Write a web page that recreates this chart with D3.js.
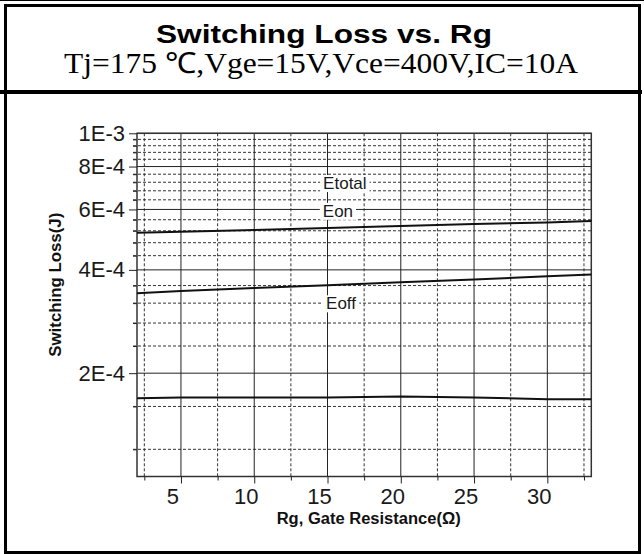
<!DOCTYPE html>
<html>
<head>
<meta charset="utf-8">
<script src="https://cdn.jsdelivr.net/npm/d3@7"></script>
<style>
  html, body { margin: 0; padding: 0; background: #fff; }
  svg { display: block; }
</style>
</head>
<body>
<svg id="chart" width="644" height="554"></svg>
<script>
// ---- data ----
const titleText = "Switching Loss vs. Rg";
const subtitleText = "Tj=175 \u2103,Vge=15V,Vce=400V,IC=10A";
const xTitle = "Rg, Gate Resistance(\u03A9)";
const yTitle = "Switching Loss(J)";

const rg = [2, 5, 10, 15, 20, 25, 30, 33];
const etotal = [5.13e-4, 5.17e-4, 5.23e-4, 5.30e-4, 5.37e-4, 5.44e-4, 5.50e-4, 5.55e-4];
const eon    = [3.42e-4, 3.47e-4, 3.54e-4, 3.61e-4, 3.68e-4, 3.75e-4, 3.83e-4, 3.88e-4];
const eoff   = [1.69e-4, 1.70e-4, 1.70e-4, 1.70e-4, 1.71e-4, 1.70e-4, 1.68e-4, 1.68e-4];

const seriesNames = ["Etotal", "Eon", "Eoff"];
const labelRg = [14.7, 14.68, 14.9];
const labelVal = [6.88e-4, 5.71e-4, 3.07e-4];

const xDomain = [2, 33];
const yDomain = [1e-4, 1e-3];
const xMajor = [5, 10, 15, 20, 25, 30];
const xMinor = [2.5, 7.5, 12.5, 17.5, 22.5, 27.5, 32.5];
const yMajor = [1e-3, 8e-4, 6e-4, 4e-4, 2e-4];
const yMajorLabels = ["1E-3", "8E-4", "6E-4", "4E-4", "2E-4"];
const yMinor = [1.2e-4, 1.6e-4, 2.4e-4, 2.8e-4, 3.2e-4, 3.6e-4, 4.4e-4, 4.8e-4,
                5.2e-4, 5.6e-4, 6.4e-4, 6.8e-4, 7.2e-4, 7.6e-4, 8.4e-4, 8.8e-4, 9.2e-4, 9.6e-4];

// ---- layout ----
const svg = d3.select("#chart");
const sans = "Arial, 'Liberation Sans', Helvetica, sans-serif";
const serif = "'Times New Roman', 'Liberation Serif', serif";
const L = 137, R = 591.3, T = 133.3, B = 476.5;

const x = d3.scaleLinear().domain(xDomain).range([L, R]);
const y = d3.scaleLog().domain(yDomain).range([B, T]);

// ---- frame ----
svg.append("line").attr("x1", 0).attr("x2", 644).attr("y1", 0.5).attr("y2", 0.5)
  .attr("stroke", "#000").attr("stroke-width", 1);
svg.append("rect").attr("x", 5.5).attr("y", 5.5).attr("width", 634).attr("height", 86.5)
  .attr("fill", "none").attr("stroke", "#000").attr("stroke-width", 3);
svg.append("rect").attr("x", 5.5).attr("y", 92).attr("width", 634).attr("height", 460.5)
  .attr("fill", "none").attr("stroke", "#000").attr("stroke-width", 3);
svg.append("line").attr("x1", 0).attr("x2", 642).attr("y1", 92).attr("y2", 92)
  .attr("stroke", "#000").attr("stroke-width", 4);

// ---- titles ----
svg.append("text").attr("x", 156).attr("y", 43)
  .attr("font-family", sans).attr("font-weight", "bold").attr("font-size", 26)
  .attr("textLength", 336).attr("lengthAdjust", "spacingAndGlyphs")
  .attr("fill", "#000").text(titleText);
svg.append("text").attr("x", 64).attr("y", 73)
  .attr("font-family", serif).attr("font-size", 29)
  .attr("textLength", 514).attr("lengthAdjust", "spacingAndGlyphs")
  .attr("fill", "#000").text(subtitleText);

// ---- grid ----
const grid = svg.append("g");
grid.selectAll(".hmin").data(yMinor).join("line")
  .attr("x1", L - 4).attr("x2", R).attr("y1", d => y(d)).attr("y2", d => y(d))
  .attr("stroke", "#333").attr("stroke-width", 1).attr("stroke-dasharray", "3,2");
grid.selectAll(".vmin").data(xMinor).join("line")
  .attr("x1", d => x(d)).attr("x2", d => x(d)).attr("y1", T).attr("y2", B)
  .attr("stroke", "#333").attr("stroke-width", 1).attr("stroke-dasharray", "3,2");
grid.selectAll(".hmaj").data(yMajor).join("line")
  .attr("x1", L).attr("x2", R).attr("y1", d => y(d)).attr("y2", d => y(d))
  .attr("stroke", "#222").attr("stroke-width", 1);
grid.selectAll(".vmaj").data(xMajor).join("line")
  .attr("x1", d => x(d)).attr("x2", d => x(d)).attr("y1", T).attr("y2", B)
  .attr("stroke", "#222").attr("stroke-width", 1);

// plot border
svg.append("rect").attr("x", L).attr("y", T).attr("width", R - L).attr("height", B - T)
  .attr("fill", "none").attr("stroke", "#333").attr("stroke-width", 1.5);

// ---- axes ----
const yAx = svg.append("g").attr("transform", `translate(${L},0)`)
  .call(d3.axisLeft(y).tickValues(yMajor).tickSize(8).tickPadding(4)
    .tickFormat((d, i) => yMajorLabels[i]));
const yAxMin = svg.append("g").attr("transform", `translate(${L},0)`)
  .call(d3.axisLeft(y).tickValues(yMinor).tickSize(4).tickFormat(""));
const xAx = svg.append("g").attr("transform", `translate(0,${B})`)
  .call(d3.axisBottom(x).tickValues(xMajor).tickSize(7).tickPadding(5));
const xAxMin = svg.append("g").attr("transform", `translate(0,${B})`)
  .call(d3.axisBottom(x).tickValues(xMinor).tickSize(4).tickFormat(""));
[yAx, yAxMin, xAx, xAxMin].forEach(g => {
  g.select(".domain").remove();
  g.selectAll(".tick line").attr("stroke", "#222").attr("stroke-width", 1);
  g.selectAll(".tick text").attr("font-family", sans).attr("font-size", 22).attr("fill", "#1a1a1a");
});
xAx.selectAll(".tick text").attr("dx", -8.5);

// axis titles
svg.append("text").attr("transform", "translate(61,284.7) rotate(-90)")
  .attr("x", -72).attr("y", 0)
  .attr("font-family", sans).attr("font-weight", "bold").attr("font-size", 16)
  .attr("textLength", 144).attr("lengthAdjust", "spacingAndGlyphs")
  .attr("fill", "#111").text(yTitle);
svg.append("text").attr("x", 276.7).attr("y", 524)
  .attr("font-family", sans).attr("font-weight", "bold").attr("font-size", 16)
  .attr("textLength", 184).attr("lengthAdjust", "spacingAndGlyphs")
  .attr("fill", "#111").text(xTitle);

// ---- curves ----
const line = d3.line().x(d => x(d[0])).y(d => y(d[1]));
[etotal, eon, eoff].forEach(vals => {
  svg.append("path").datum(rg.map((r, i) => [r, vals[i]]))
    .attr("d", line).attr("fill", "none").attr("stroke", "#111").attr("stroke-width", 2);
});

// ---- series labels ----
seriesNames.forEach((name, i) => {
  const t = svg.append("text").attr("x", x(labelRg[i])).attr("y", y(labelVal[i]))
    .attr("font-family", sans).attr("font-size", 17).attr("fill", "#1a1a1a").text(name);
  const bb = t.node().getBBox();
  svg.insert("rect", () => t.node())
    .attr("x", bb.x - 3).attr("y", bb.y + 1).attr("width", bb.width + 6).attr("height", bb.height - 2)
    .attr("fill", "#fff");
});
</script>
</body>
</html>
